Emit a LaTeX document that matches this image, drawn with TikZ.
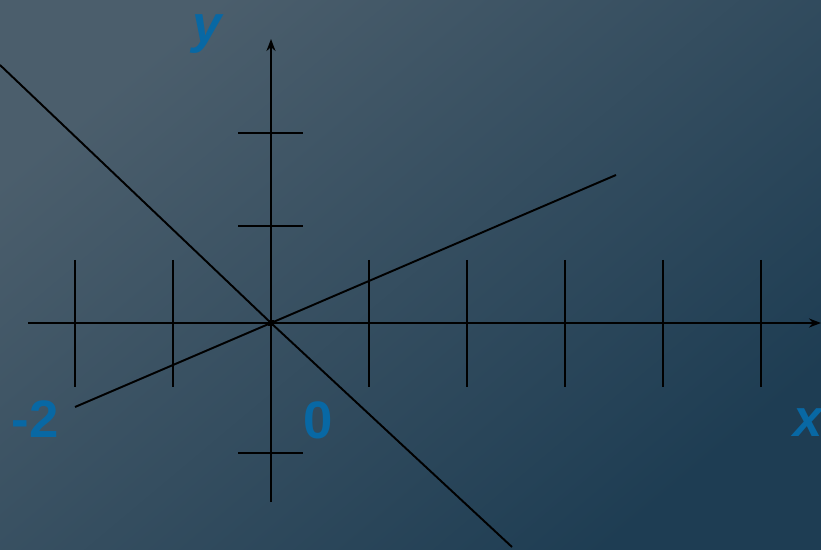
\documentclass[tikz,border=0pt]{standalone}
\usepackage{fontspec}
\setmainfont{Liberation Sans}
\usepackage{xcolor}
\usetikzlibrary{arrows.meta,positioning,calc}
\definecolor{bgA}{RGB}{75,94,108}
\definecolor{bgB}{RGB}{30,61,83}
\definecolor{lbl}{RGB}{8,104,164}
\begin{document}
\begin{tikzpicture}[x=0.02cm,y=-0.02cm,
  ax/.style={line width=1.1pt,-{Stealth[length=2.4mm,width=1.8mm]}},
  tk/.style={line width=1.1pt},
  ln/.style={line width=1.1pt},
  lab/.style={font=\fontsize{30}{30}\selectfont\bfseries,text=lbl,inner sep=0pt}]
 \shade[top color=bgA,bottom color=bgB,shading angle=40] (0,0) rectangle (821,550);
 \useasboundingbox (0,0) rectangle (821,550);
 % axes
 \coordinate (O) at (271,323);
 \coordinate (xl) at (28,323);
 \coordinate (xr) at (821,323);
 \coordinate (yb) at (271,502);
 \coordinate (yt) at (271,39);
 \draw[ax] (xl) -- (xr);
 \draw[ax] (yb) -- (yt);
 % ticks on x
 \foreach \t in {75,173,369,467,565,663,761}
   \draw[tk] (\t,260) -- (\t,387);
 % ticks on y
 \foreach \t in {133,226,453}
   \draw[tk] (238,\t) -- (303,\t);
 % the two lines
 \coordinate (a1) at (0,65);
 \coordinate (a2) at (512,547);
 \coordinate (b1) at (75,407);
 \coordinate (b2) at (616,175);
 \draw[ln] (a1) -- (O) -- (a2);
 \draw[ln] (b1) -- (O) -- (b2);
 \fill ($(O)+(-3,-3)$) rectangle ($(O)+(3,3)$);
 % labels
 \node[lab] (ly) at (207,34) {\itshape y};
 \node[lab] (lm) at (35,419) {-2};
 \node[lab] (lz) at (318,420) {0};
 \node[lab,anchor=west] (lx) at (793,423) {\itshape x};
\end{tikzpicture}
\end{document}
